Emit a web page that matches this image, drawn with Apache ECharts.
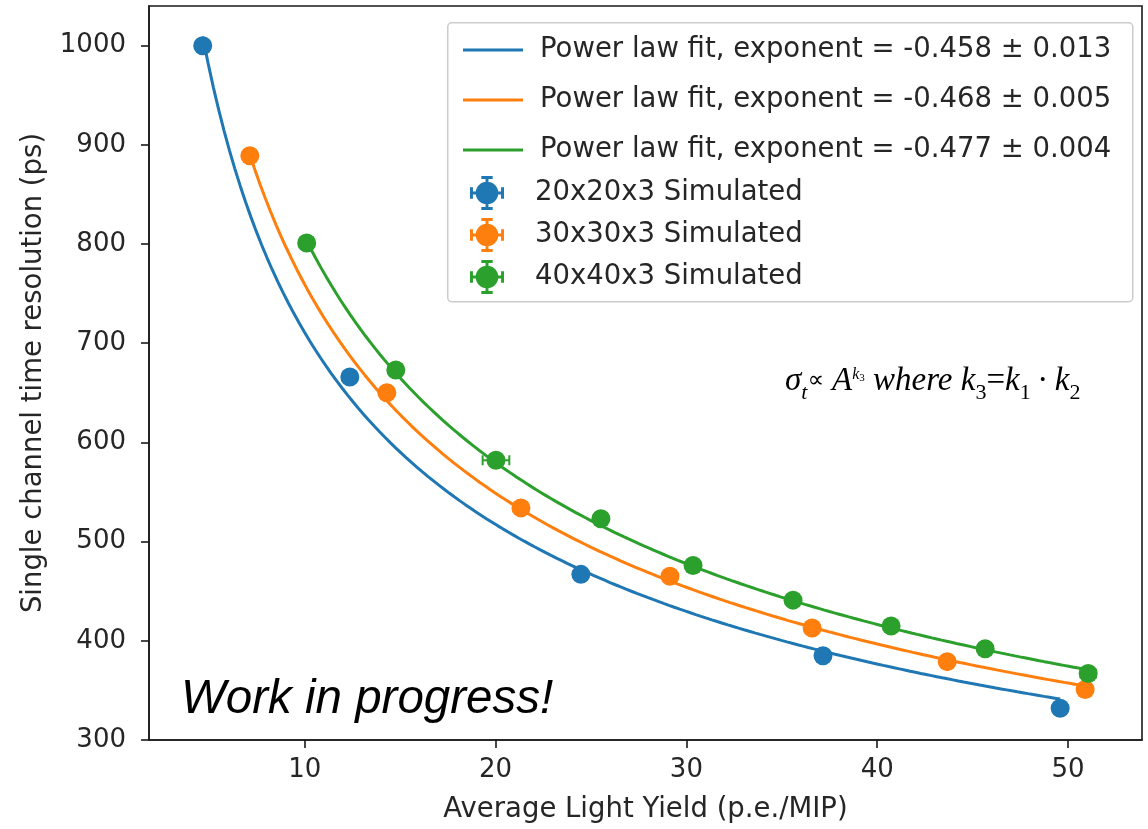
<!DOCTYPE html>
<html>
<head>
<meta charset="utf-8">
<title>Time resolution vs light yield</title>
<script src="https://cdn.jsdelivr.net/npm/echarts@6/dist/echarts.min.js"></script>
<style>
  html, body { margin: 0; padding: 0; background: #ffffff; }
  #chart { width: 1148px; height: 829px; }
</style>
</head>
<body>
<div id="chart"></div>
<script>
// Axis ticks
const xTicks = [10, 20, 30, 40, 50];
const yTicks = [300, 400, 500, 600, 700, 800, 900, 1000];

// Simulated tile sizes
const sampleNames = ['20x20x3 Simulated', '30x30x3 Simulated', '40x40x3 Simulated'];
const colors = ['#1f77b4', '#ff7f0e', '#2ca02c'];

// 20x20x3: light yield (p.e./MIP), resolution (ps) and their uncertainties
const yield20 = [4.65, 12.36, 24.47, 37.16, 49.59];
const sigma20 = [1000, 666, 467, 385, 332];
const yieldErr20 = [0.35, 0.2, 0.25, 0.25, 0.3];
const sigmaErr20 = [5, 4, 3, 3, 3];

// 30x30x3
const yield30 = [7.12, 14.30, 21.33, 29.14, 36.59, 43.67, 50.90];
const sigma30 = [889, 650, 534, 465, 413, 379, 351];
const yieldErr30 = [0.2, 0.2, 0.25, 0.25, 0.25, 0.3, 0.3];
const sigmaErr30 = [4, 3, 3, 3, 2, 2, 2];

// 40x40x3
const yield40 = [10.10, 14.77, 20.02, 25.52, 30.35, 35.59, 40.73, 45.66, 51.06];
const sigma40 = [801, 673, 582, 523, 476, 441, 415, 392, 367];
const yieldErr40 = [0.2, 0.2, 0.7, 0.25, 0.25, 0.25, 0.3, 0.3, 0.4];
const sigmaErr40 = [4, 3, 3, 3, 2, 2, 2, 2, 2];

// Power-law fits sigma = A * LY^k
const fitAmplitude = [2040, 2230, 2420];
const fitExponent = [-0.458, -0.468, -0.477];
const fitExponentErr = [0.013, 0.005, 0.004];

const yields = [yield20, yield30, yield40];
const sigmas = [sigma20, sigma30, sigma40];
const yieldErrs = [yieldErr20, yieldErr30, yieldErr40];
const sigmaErrs = [sigmaErr20, sigmaErr30, sigmaErr40];

const FONT = 'DejaVu Sans';
const TEXT_COLOR = '#262626';
const fitNames = fitExponent.map((k, i) =>
  'Power law fit, exponent = ' + k.toFixed(3) + ' ± ' + fitExponentErr[i].toFixed(3));

// Sample each fit curve over the measured light-yield range of its tile
function fitCurve(i) {
  const xs = yields[i];
  const x0 = xs[0], x1 = xs[xs.length - 1];
  const n = 160, pts = [];
  for (let j = 0; j <= n; j++) {
    const x = x0 + (x1 - x0) * j / n;
    pts.push([x, fitAmplitude[i] * Math.pow(x, fitExponent[i])]);
  }
  return pts;
}

// Error-bar marker used in the legend (circle with capped bars), 30x30 box
const errIcon = 'path://M5,15A10,10,0,1,1,25,15A10,10,0,1,1,5,15Z' +
  'M13.7,1H16.3V29H13.7Z M1,13.7H29V16.3H1Z' +
  'M10,0H20V2.6H10Z M10,27.4H20V30H10Z M0,10H2.6V20H0Z M27.4,10H30V20H27.4Z';

function errorBarRender(color) {
  return function (params, api) {
    const x = api.value(0), y = api.value(1), xe = api.value(2), ye = api.value(3);
    const l = api.coord([x - xe, y]), r = api.coord([x + xe, y]);
    const b = api.coord([x, y - ye]), t = api.coord([x, y + ye]);
    const cap = 5;
    const style = { stroke: color, lineWidth: 2 };
    return {
      type: 'group',
      children: [
        { type: 'line', shape: { x1: l[0], y1: l[1], x2: r[0], y2: r[1] }, style },
        { type: 'line', shape: { x1: l[0], y1: l[1] - cap, x2: l[0], y2: l[1] + cap }, style },
        { type: 'line', shape: { x1: r[0], y1: r[1] - cap, x2: r[0], y2: r[1] + cap }, style },
        { type: 'line', shape: { x1: b[0], y1: b[1], x2: t[0], y2: t[1] }, style },
        { type: 'line', shape: { x1: b[0] - cap, y1: b[1], x2: b[0] + cap, y2: b[1] }, style },
        { type: 'line', shape: { x1: t[0] - cap, y1: t[1], x2: t[0] + cap, y2: t[1] }, style }
      ]
    };
  };
}

const series = [];
// Fit lines drawn first, under the measured points
fitNames.forEach((name, i) => {
  series.push({
    name: name,
    type: 'line',
    data: fitCurve(i),
    showSymbol: false,
    symbol: 'none',
    smooth: false,
    lineStyle: { color: colors[i], width: 3 },
    itemStyle: { color: colors[i] },
    z: 2
  });
});
sampleNames.forEach((name, i) => {
  series.push({
    name: name,
    type: 'scatter',
    data: yields[i].map((x, j) => [x, sigmas[i][j]]),
    symbol: 'circle',
    symbolSize: 19,
    itemStyle: { color: colors[i], opacity: 1 },
    z: 4
  });
  series.push({
    name: name,
    type: 'custom',
    renderItem: errorBarRender(colors[i]),
    data: yields[i].map((x, j) => [x, sigmas[i][j], yieldErrs[i][j], sigmaErrs[i][j]]),
    encode: { x: 0, y: 1 },
    itemStyle: { color: colors[i] },
    z: 3
  });
});

const chart = echarts.init(document.getElementById('chart'), null, { renderer: 'canvas' });

// Rich-text styles for the scaling relation
const SERIF = 'Liberation Serif';
const LINE_H = 46;
const serifIt = { fontFamily: SERIF, fontStyle: 'italic', fontSize: 33, lineHeight: LINE_H, color: '#000' };
const serifUp = { fontFamily: SERIF, fontSize: 33, lineHeight: LINE_H, color: '#000' };
const propSt = { fontFamily: 'DejaVu Sans', fontSize: 23, lineHeight: LINE_H, color: '#000' };
const subUp = { fontFamily: SERIF, fontSize: 22, lineHeight: 22, verticalAlign: 'bottom', color: '#000' };
const subIt = Object.assign({}, subUp, { fontStyle: 'italic' });
const supIt = { fontFamily: SERIF, fontStyle: 'italic', fontSize: 16, verticalAlign: 'top', padding: [8, 0, 0, 0], color: '#000' };
const supSub = { fontFamily: SERIF, fontSize: 11, verticalAlign: 'top', padding: [14, 0, 0, 0], color: '#000' };

const tickLabel = { fontFamily: FONT, fontSize: 26, color: TEXT_COLOR };
const axisName = { fontFamily: FONT, fontSize: 27.5, color: TEXT_COLOR };
const axisStroke = { color: '#1a1a1a', width: 1.6 };

chart.setOption({
  backgroundColor: '#ffffff',
  animation: false,
  grid: {
    left: 149, top: 6, right: 6, bottom: 86, containLabel: false,
    show: true, borderColor: '#1a1a1a', borderWidth: 1.6, backgroundColor: 'transparent'
  },
  xAxis: {
    type: 'value',
    min: 1.835,
    max: 53.88,
    name: 'Average Light Yield (p.e./MIP)',
    nameLocation: 'middle',
    nameGap: 56,
    nameTextStyle: axisName,
    axisLine: { show: true, onZero: false, lineStyle: axisStroke },
    axisTick: { show: true, inside: false, length: 8, customValues: xTicks, lineStyle: axisStroke },
    axisLabel: { customValues: xTicks, margin: 17, formatter: v => String(v), ...tickLabel },
    splitLine: { show: false }
  },
  yAxis: {
    type: 'value',
    min: 300,
    max: 1040,
    name: 'Single channel time resolution (ps)',
    nameLocation: 'middle',
    nameGap: 101,
    nameTextStyle: axisName,
    axisLine: { show: true, onZero: false, lineStyle: axisStroke },
    axisTick: { show: true, inside: false, length: 8, customValues: yTicks, lineStyle: axisStroke },
    axisLabel: { customValues: yTicks, margin: 23, formatter: v => String(v), ...tickLabel },
    splitLine: { show: false }
  },
  legend: [
    {
      data: fitNames.map(n => ({ name: n, icon: 'rect' })),
      orient: 'vertical',
      left: 458,
      top: 29,
      itemWidth: 60,
      itemHeight: 3,
      itemGap: 18,
      selectedMode: false,
      textStyle: { fontFamily: FONT, fontSize: 27.5, lineHeight: 32, color: TEXT_COLOR, padding: [0, 0, 0, 12] }
    },
    {
      data: sampleNames.map(n => ({ name: n, icon: errIcon })),
      orient: 'vertical',
      left: 465,
      top: 171,
      itemWidth: 34,
      itemHeight: 34,
      itemGap: 8,
      selectedMode: false,
      itemStyle: { borderWidth: 0 },
      textStyle: { fontFamily: FONT, fontSize: 27.5, lineHeight: 32, color: TEXT_COLOR, padding: [0, 0, 0, 26] }
    }
  ],
  graphic: [
    {
      type: 'rect',
      left: 447,
      top: 22,
      z: 1,
      shape: { width: 685, height: 279, r: 4 },
      style: { fill: 'rgba(255,255,255,0.8)', stroke: '#cccccc', lineWidth: 1.5 }
    },
    {
      type: 'text',
      left: 181,
      top: 676,
      z: 10,
      style: {
        text: 'Work in progress!',
        font: 'italic 47.5px "Liberation Sans"',
        fill: '#000000'
      }
    },
    {
      type: 'text',
      left: 785,
      top: 365,
      z: 10,
      style: {
        text: '{it|σ}{subi|t}{prop|∝}{it| A}{sup|k}{ssub|3}{it| where k}{sub|3}{up|=}{it|k}{sub|1}{up|\u2009·\u2009}{it|k}{sub|2}',
        rich: { it: serifIt, up: serifUp, prop: propSt, sub: subUp, subi: subIt, sup: supIt, ssub: supSub }
      }
    }
  ],
  series: series
});
</script>
</body>
</html>
